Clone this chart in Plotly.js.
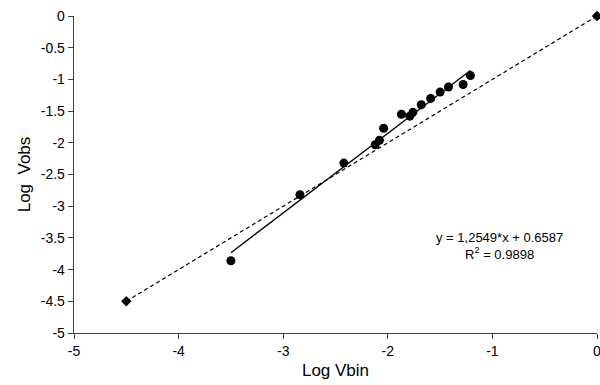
<!DOCTYPE html>
<html><head><meta charset="utf-8">
<script src="https://cdn.plot.ly/plotly-3.0.1.min.js"></script>
<style>html,body{margin:0;padding:0;background:#fff}#chart{width:600px;height:385px}</style>
</head><body><div id="chart"></div>
<script>
// Observed data points
const logVbin = [-3.50, -2.84, -2.42, -2.12, -2.08, -2.04, -1.87, -1.79, -1.76, -1.68, -1.59, -1.50, -1.42, -1.28, -1.21];
const logVobs = [-3.86, -2.82, -2.32, -2.03, -1.96, -1.77, -1.55, -1.58, -1.52, -1.40, -1.30, -1.20, -1.12, -1.08, -0.94];
// 1:1 reference line endpoints
const refX = [-4.5, 0];
const refY = [-4.5, 0];
// Regression coefficients
const slope = 1.2549;
const intercept = 0.6587;
const r2 = 0.9898;
// Tick values and labels
const xTickVals = [-5, -4, -3, -2, -1, 0];
const xTickText = ['-5', '-4', '-3', '-2', '-1', '0'];
const yTickVals = [-5, -4.5, -4, -3.5, -3, -2.5, -2, -1.5, -1, -0.5, 0];
const yTickText = ['-5', '-4.5', '-4', '-3.5', '-3', '-2.5', '-2', '-1.5', '-1', '-0.5', '0'];

const xmin = Math.min(...logVbin), xmax = Math.max(...logVbin);
const fitX = [xmin, xmax];
const fitY = fitX.map(x => slope * x + intercept);

const font = {family: 'Liberation Sans, Arial, sans-serif', color: '#000'};
const data = [
  {x: refX, y: refY, mode: 'lines+markers', type: 'scatter', cliponaxis: false,
   line: {color: '#000', width: 1.2, dash: '4px,3px'},
   marker: {symbol: 'diamond', size: 8, color: '#000'}},
  {x: fitX, y: fitY, mode: 'lines', type: 'scatter',
   line: {color: '#000', width: 1.3}},
  {x: logVbin, y: logVobs, mode: 'markers', type: 'scatter', cliponaxis: false,
   marker: {symbol: 'circle', size: 9, color: '#000'}}
];
const layout = {
  width: 600, height: 385,
  margin: {l: 74, r: 3, t: 16, b: 52},
  showlegend: false,
  paper_bgcolor: '#fff', plot_bgcolor: '#fff',
  font: Object.assign({size: 14}, font),
  xaxis: {range: [-5, 0], tickmode: 'array', tickvals: xTickVals, ticktext: xTickText,
    showgrid: false, zeroline: false, ticklabeloverflow: 'allow',
    showline: true, linecolor: '#404040', linewidth: 1.3, ticks: 'outside', ticklen: 5,
    tickcolor: '#404040', tickfont: {size: 14},
    title: {text: 'Log Vbin', font: {size: 17}, standoff: 6}},
  yaxis: {range: [-5, 0], tickmode: 'array', tickvals: yTickVals, ticktext: yTickText,
    showgrid: false, zeroline: false, ticklabeloverflow: 'allow',
    showline: true, linecolor: '#404040', linewidth: 1.3, ticks: 'outside', ticklen: 5,
    tickcolor: '#404040', tickfont: {size: 14},
    title: {text: 'Log  Vobs', font: {size: 17}, standoff: 5}},
  annotations: [
    {x: -0.93, y: -3.63, xref: 'x', yref: 'y', showarrow: false,
     text: 'y = 1,2549*x + 0.6587<br>R<sup>2</sup> = ' + r2.toFixed(4),
     font: {size: 13, color: '#000'}, align: 'center'}
  ]
};
Plotly.newPlot('chart', data, layout, {displayModeBar: false, staticPlot: true});
</script></body></html>
